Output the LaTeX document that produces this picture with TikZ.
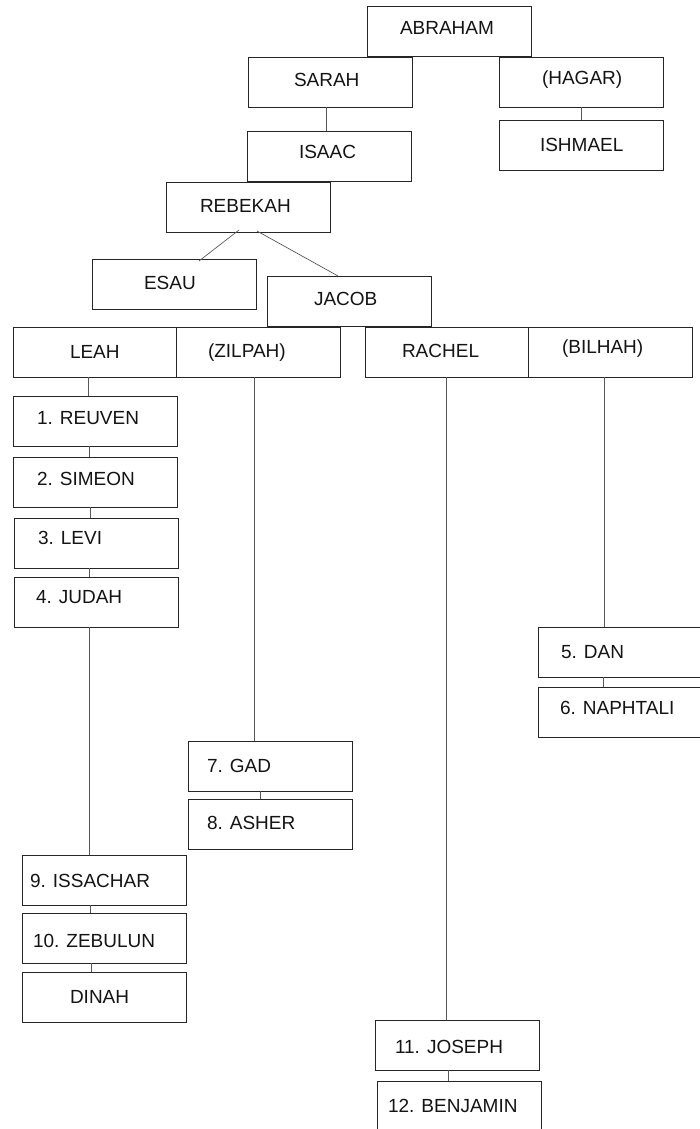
\documentclass[tikz,border=0pt]{standalone}
\usepackage{fontspec}
\setmainfont{Liberation Sans}
\begin{document}
\begin{tikzpicture}[x=1pt,y=-1pt,
  box/.style={draw=black!85, line width=0.8pt, rectangle, minimum width=164pt, minimum height=50pt, inner sep=0pt, outer sep=0pt, fill=white},
  lbl/.style={anchor=base west, inner sep=0pt, outer sep=0pt, text=black!92, font=\fontsize{19}{22}\selectfont},
  link/.style={draw=black!65, line width=0.7pt}]
\useasboundingbox (0,0) rectangle (700,1129);
\fill[white] (0,0) rectangle (700,1129);
% boxes
\node[box] (abraham) at (449.5,31) {};
\node[box] (sarah) at (330,82) {};
\node[box] (hagar) at (581,82) {};
\node[box] (ishmael) at (581,145.5) {};
\node[box] (isaac) at (329,156.5) {};
\node[box] (rebekah) at (248.5,207) {};
\node[box] (esau) at (174,284) {};
\node[box] (jacob) at (349.5,301) {};
\node[box] (leah) at (95,352) {};
\node[box] (zilpah) at (258.5,352) {};
\node[box] (rachel) at (447.5,352) {};
\node[box] (bilhah) at (610.5,352) {};
\node[box] (reuven) at (95,421) {};
\node[box] (simeon) at (95,482) {};
\node[box] (levi) at (96,543) {};
\node[box] (judah) at (96,602) {};
\node[box] (dan) at (620,652) {};
\node[box] (naphtali) at (620,712) {};
\node[box] (gad) at (270.5,766) {};
\node[box] (asher) at (270.5,824) {};
\node[box] (issachar) at (104,880) {};
\node[box] (zebulun) at (104,938) {};
\node[box] (dinah) at (104,997) {};
\node[box] (joseph) at (457.5,1045) {};
\node[box] (benjamin) at (459.5,1106) {};
% labels
\node[lbl] (tabraham) at (400,35) {ABRAHAM};
\node[lbl] (tsarah) at (294,87) {SARAH};
\node[lbl] (thagar) at (542,85) {(HAGAR)};
\node[lbl] (tishmael) at (540,151) {ISHMAEL};
\node[lbl] (tisaac) at (299,158) {ISAAC};
\node[lbl] (trebekah) at (200,212) {REBEKAH};
\node[lbl] (tesau) at (144,289) {ESAU};
\node[lbl] (tjacob) at (314,305) {JACOB};
\node[lbl] (tleah) at (70,358) {LEAH};
\node[lbl] (tzilpah) at (208,357) {(ZILPAH)};
\node[lbl] (trachel) at (402,357) {RACHEL};
\node[lbl] (tbilhah) at (562,353) {(BILHAH)};
\node[lbl] (treuven) at (37,424) {1. REUVEN};
\node[lbl] (tsimeon) at (37,485) {2. SIMEON};
\node[lbl] (tlevi) at (38,544) {3. LEVI};
\node[lbl] (tjudah) at (36,603) {4. JUDAH};
\node[lbl] (tdan) at (561,658) {5. DAN};
\node[lbl] (tnaphtali) at (560,714) {6. NAPHTALI};
\node[lbl] (tgad) at (207,772) {7. GAD};
\node[lbl] (tasher) at (207,829) {8. ASHER};
\node[lbl] (tissachar) at (30,887) {9. ISSACHAR};
\node[lbl] (tzebulun) at (33,947) {10. ZEBULUN};
\node[lbl] (tdinah) at (70,1003) {DINAH};
\node[lbl] (tjoseph) at (395,1053) {11. JOSEPH};
\node[lbl] (tbenjamin) at (388,1112) {12. BENJAMIN};
% connectors
\draw[link] ([xshift=-4pt]sarah.south) -- ([xshift=-4pt]sarah.south |- isaac.north);
\draw[link] (hagar.south) -- (ishmael.north);
\draw[link] ([xshift=-9.5pt,yshift=2pt]rebekah.south) -- ([xshift=25pt,yshift=-2pt]esau.north);
\draw[link] ([xshift=8.5pt,yshift=1pt]rebekah.south) -- ([xshift=-11.5pt]jacob.north);
\draw[link] ([xshift=-6.5pt]leah.south) -- ([xshift=-6.5pt]leah.south |- reuven.north);
\draw[link] ([xshift=-6pt]reuven.south) -- ([xshift=-6pt]reuven.south |- simeon.north);
\draw[link] ([xshift=-5pt]simeon.south) -- ([xshift=-5pt]simeon.south |- levi.north);
\draw[link] ([xshift=-7pt]levi.south) -- ([xshift=-7pt]levi.south |- judah.north);
\draw[link] ([xshift=-7pt]judah.south) -- ([xshift=-7pt]judah.south |- issachar.north);
\draw[link] ([xshift=-14pt]issachar.south) -- ([xshift=-14pt]issachar.south |- zebulun.north);
\draw[link] ([xshift=-13pt]zebulun.south) -- ([xshift=-13pt]zebulun.south |- dinah.north);
\draw[link] ([xshift=-4.5pt]zilpah.south) -- ([xshift=-4.5pt]zilpah.south |- gad.north);
\draw[link] ([xshift=-10.5pt]gad.south) -- ([xshift=-10.5pt]gad.south |- asher.north);
\draw[link] ([xshift=-1pt]rachel.south) -- ([xshift=-1pt]rachel.south |- joseph.north);
\draw[link] ([xshift=-9.5pt]joseph.south) -- ([xshift=-9.5pt]joseph.south |- benjamin.north);
\draw[link] ([xshift=-6pt]bilhah.south) -- ([xshift=-6pt]bilhah.south |- dan.north);
\draw[link] ([xshift=-17pt]dan.south) -- ([xshift=-17pt]dan.south |- naphtali.north);
\end{tikzpicture}
\end{document}
